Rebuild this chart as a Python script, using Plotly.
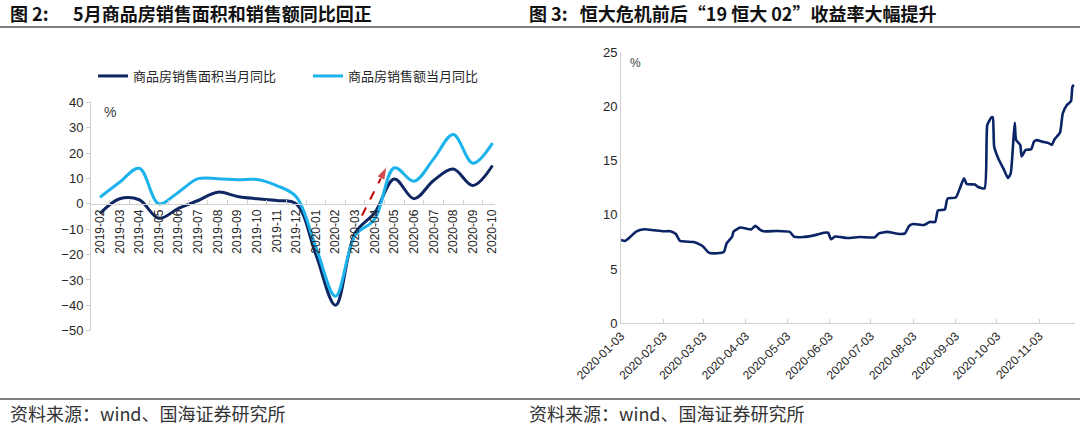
import plotly.graph_objects as go

# ---------------- data: left panel ----------------
months = ["2019-02", "2019-03", "2019-04", "2019-05", "2019-06", "2019-07", "2019-08",
          "2019-09", "2019-10", "2019-11", "2019-12", "2020-01", "2020-02", "2020-03",
          "2020-04", "2020-05", "2020-06", "2020-07", "2020-08", "2020-09", "2020-10"]
area_yoy = [-3.8, 2.0, 1.6, -5.7, -1.8, 1.3, 4.6, 2.9, 2.0, 1.3, 0.0, -20.0, -40.0,
            -11.5, -3.5, 9.8, 2.0, 9.2, 13.7, 7.2, 15.1]
sales_yoy = [2.6, 8.5, 14.0, 0.0, 4.6, 9.9, 9.9, 9.5, 9.6, 7.2, 2.8, -17.0, -36.4,
             -12.5, -6.0, 14.2, 8.9, 17.7, 27.3, 16.0, 23.9]
left_yticks = [40, 30, 20, 10, 0, -10, -20, -30, -40, -50]
arrow_x = [13.35, 14.62]
arrow_y = [-4.6, 14.7]

# ---------------- data: right panel ----------------
yield_dates = [
    "2020-01-03", "2020-01-06", "2020-01-10", "2020-01-14", "2020-01-20", "2020-01-27",
    "2020-02-03", "2020-02-08", "2020-02-12", "2020-02-15", "2020-02-25", "2020-03-01",
    "2020-03-03", "2020-03-07", "2020-03-13", "2020-03-18", "2020-03-20", "2020-03-24",
    "2020-03-25", "2020-03-30", "2020-04-07", "2020-04-10", "2020-04-13", "2020-04-16",
    "2020-04-26", "2020-05-05", "2020-05-08", "2020-05-15", "2020-05-25", "2020-05-30",
    "2020-06-02", "2020-06-04", "2020-06-07", "2020-06-16", "2020-06-25", "2020-07-06",
    "2020-07-09", "2020-07-15", "2020-07-24", "2020-07-28", "2020-07-31", "2020-08-03",
    "2020-08-11", "2020-08-15", "2020-08-19", "2020-08-21", "2020-08-26", "2020-08-28",
    "2020-09-03", "2020-09-06", "2020-09-09", "2020-09-11", "2020-09-17", "2020-09-19",
    "2020-09-24", "2020-09-26", "2020-09-29", "2020-09-30", "2020-10-01", "2020-10-04",
    "2020-10-08", "2020-10-11", "2020-10-13", "2020-10-15", "2020-10-16", "2020-10-17",
    "2020-10-20", "2020-10-21", "2020-10-24", "2020-10-28", "2020-10-30", "2020-11-01",
    "2020-11-05", "2020-11-10", "2020-11-12", "2020-11-14", "2020-11-18", "2020-11-20",
    "2020-11-23", "2020-11-26", "2020-11-27", "2020-11-28"]
yield_vals = [
    7.69, 7.6, 8.0, 8.45, 8.67, 8.58,
    8.49, 8.5, 8.24, 7.6, 7.5, 7.23,
    7.07, 6.52, 6.46, 6.6, 7.38, 8.0,
    8.45, 8.83, 8.67, 9.0, 8.67, 8.49,
    8.52, 8.43, 8.0, 7.96, 8.18, 8.36,
    8.36, 7.75, 8.0, 7.87, 7.96, 7.93,
    8.3, 8.43, 8.24, 8.3, 8.98, 9.16,
    9.07, 9.35, 9.35, 10.4, 10.5, 11.5,
    11.6, 12.45, 13.38, 12.85, 12.8, 12.6,
    12.45, 18.3, 19.0, 19.0, 16.3, 15.2,
    14.2, 13.4, 13.8, 16.9, 18.5, 16.9,
    16.45, 15.4, 16.0, 16.05, 16.76, 16.9,
    16.76, 16.6, 16.45, 16.97, 17.6, 19.37,
    20.14, 20.5, 21.8, 22.0]

W, H = 1080, 436


def fx(p):
    return p / W


def fy(p):
    return 1 - p / H


DARK = "#0E2762"
LIGHT = "#1CB2EC"
AXIS = "#D0D0D0"
TXT = "#262626"
NUMFONT = "Liberation Sans, Arial, sans-serif"
CJK = "Noto Sans CJK SC"

fig = go.Figure()
idx = list(range(len(months)))

fig.add_trace(go.Scatter(
    x=idx, y=area_yoy, name="商品房销售面积当月同比", mode="lines",
    line=dict(color=DARK, width=3, shape="spline", smoothing=1.0),
    xaxis="x", yaxis="y", hoverinfo="skip"))
fig.add_trace(go.Scatter(
    x=idx, y=sales_yoy, name="商品房销售额当月同比", mode="lines",
    line=dict(color=LIGHT, width=3, shape="spline", smoothing=1.0),
    xaxis="x", yaxis="y", hoverinfo="skip"))
# dashed red arrow
fig.add_trace(go.Scatter(
    x=arrow_x, y=arrow_y, mode="lines+markers", showlegend=False,
    line=dict(color="#C00000", width=2, dash="dash"),
    marker=dict(symbol=["circle", "arrow"], size=[0.1, 14], color="#C00000",
                angleref="previous"),
    xaxis="x", yaxis="y", hoverinfo="skip"))

fig.add_trace(go.Scatter(
    x=yield_dates, y=yield_vals, mode="lines", showlegend=False,
    line=dict(color="#0B2466", width=2.6, shape="spline", smoothing=0.5),
    xaxis="x2", yaxis="y2", hoverinfo="skip"))

# geometry
L_x0, L_x1 = 91, 495
L_top, L_bot = 102.3, 330.7
ymin, ymax = -50, 40
zero_px = L_top + (ymax - 0) / (ymax - ymin) * (L_bot - L_top)
idx_lo = (L_x0 - 100) / 19.625
idx_hi = (L_x1 - 100) / 19.625

R_x0, R_x1 = 621, 1075
R_top, R_bot = 52.3, 323.3

fig.update_layout(
    template="none",
    width=W, height=H,
    margin=dict(l=0, r=0, t=0, b=0, pad=0, autoexpand=False),
    paper_bgcolor="white", plot_bgcolor="white",
    font=dict(family=NUMFONT, color=TXT),
    xaxis=dict(
        domain=[fx(L_x0), fx(L_x1)], range=[idx_lo, idx_hi],
        anchor="free", position=fy(zero_px), automargin=False,
        tickmode="array", tickvals=idx, ticktext=months, tickangle=-90,
        tickfont=dict(size=12, color=TXT, family=NUMFONT),
        showline=True, linecolor=AXIS, linewidth=1,
        ticks="", showgrid=False, zeroline=False,
        minor=dict(tickvals=[i + 0.5 for i in idx[:-1]], ticks="inside",
                   ticklen=4, tickcolor=AXIS, showgrid=False),
    ),
    yaxis=dict(
        domain=[fy(L_bot), fy(L_top)], range=[ymin, ymax], automargin=False,
        anchor="x", tickvals=left_yticks,
        tickfont=dict(size=13, color=TXT, family=NUMFONT),
        showline=True, linecolor=AXIS, linewidth=1,
        ticks="outside", ticklen=4, tickcolor=AXIS,
        showgrid=False, zeroline=False,
    ),
    xaxis2=dict(
        domain=[fx(R_x0), fx(R_x1)], type="date", automargin=False,
        range=["2020-01-03", "2020-11-28 22:00"],
        anchor="y2", tick0="2020-01-03", dtick="M1", tickformat="%Y-%m-%d",
        tickangle=-45, tickfont=dict(size=12, color=TXT, family=NUMFONT),
        showline=True, linecolor=AXIS, linewidth=1,
        ticks="inside", ticklen=4, tickcolor=AXIS,
        showgrid=False, zeroline=False,
    ),
    yaxis2=dict(
        domain=[fy(R_bot), fy(R_top)], range=[0, 25], dtick=5, automargin=False,
        anchor="x2", tickfont=dict(size=13, color=TXT, family=NUMFONT),
        showline=True, linecolor=AXIS, linewidth=1, ticks="",
        showgrid=False, zeroline=False,
    ),
    showlegend=True,
    legend=dict(
        orientation="h", x=fx(93), y=fy(61), xanchor="left", yanchor="top",
        font=dict(size=13, family=CJK, color=TXT),
        bgcolor="rgba(0,0,0,0)", entrywidthmode="pixels", entrywidth=170,
        itemwidth=30, tracegroupgap=0,
    ),
)

# unit labels
fig.add_annotation(x=0.1, y=36.2, xref="x", yref="y", text="%", showarrow=False,
                   xanchor="left", yanchor="middle",
                   font=dict(size=14, color="#404040", family=NUMFONT))
fig.add_annotation(x="2020-01-08", y=24.0, xref="x2", yref="y2", text="%", showarrow=False,
                   xanchor="left", yanchor="middle",
                   font=dict(size=12, color="#404040", family=NUMFONT))

# titles
fig.add_annotation(x=fx(8), y=fy(13), xref="paper", yref="paper", xanchor="left",
                   yanchor="middle", showarrow=False,
                   text="<b>图 2:&nbsp;&nbsp;&nbsp;&nbsp;&nbsp;&nbsp;5月商品房销售面积和销售额同比回正</b>",
                   font=dict(size=18, family=CJK, color="#111111"))
fig.add_annotation(x=fx(527), y=fy(13), xref="paper", yref="paper", xanchor="left",
                   yanchor="middle", showarrow=False,
                   text="<b>图 3:&nbsp;&nbsp;&nbsp;恒大危机前后“19 恒大 02”收益率大幅提升</b>",
                   font=dict(size=18, family=CJK, color="#111111"))

# sources
for xs in (8, 527):
    fig.add_annotation(x=fx(xs), y=fy(413), xref="paper", yref="paper", xanchor="left",
                       yanchor="middle", showarrow=False,
                       text="资料来源：wind、国海证券研究所",
                       font=dict(size=18, family=CJK, color="#333333"))

# rule lines
for yy in (27, 399):
    fig.add_shape(type="line", xref="paper", yref="paper", x0=0, x1=1,
                  y0=fy(yy), y1=fy(yy), line=dict(color="#555555", width=1.5))

fig.write_html("out.html",
               config={"displayModeBar": False},
               post_script="document.body.style.margin='0';"
                           "document.body.style.padding='0';")
